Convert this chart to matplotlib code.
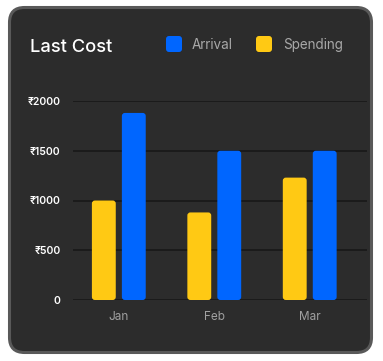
import matplotlib
matplotlib.use("Agg")
import matplotlib.pyplot as plt
from matplotlib.patches import FancyBboxPatch
import numpy as np

months = ["Jan", "Feb", "Mar"]
spending = [1000, 880, 1230]
arrival = [1880, 1500, 1500]
yticks = [0, 500, 1000, 1500, 2000]
ytick_labels = ["0", "₹500", "₹1000", "₹1500", "₹2000"]

W, H = 383, 361
FONT = ["Inter", "DejaVu Sans"]
plt.rcParams['font.family'] = FONT

fig = plt.figure(figsize=(W / 100, H / 100), dpi=100)
fig.patch.set_facecolor("white")

# overlay in pixel coordinates (origin top-left)
bg = fig.add_axes([0, 0, 1, 1])
bg.set_xlim(0, W)
bg.set_ylim(H, 0)
bg.axis("off")
card = FancyBboxPatch((9.5, 7.5), 362, 345, boxstyle="round,pad=0,rounding_size=15",
                      facecolor="#2c2c2c", edgecolor="#595959", linewidth=2.2)
bg.add_patch(card)
bg.text(29.5, 47, "Last Cost", color="white", fontsize=13.2, fontweight="medium",
        va="center", ha="left")

YELLOW = "#ffc914"
BLUE = "#0066ff"
leg = [("Arrival", BLUE, 166, 192), ("Spending", YELLOW, 256, 283)]
for lab, col, sx, tx in leg:
    bg.add_patch(FancyBboxPatch((sx, 36), 16, 16, boxstyle="round,pad=0,rounding_size=3",
                                facecolor=col, edgecolor="none"))
    bg.text(tx, 45, lab, color="#a8a8a8", fontsize=9.7, va="center", ha="left")

# plot axes
left, right, top, bottom = 73, 367, 101, 300
ax = fig.add_axes([left / W, (H - bottom) / H, (right - left) / W, (bottom - top) / H])
ax.set_facecolor("none")
ax.set_xlim(-0.48, 2.6)
ax.set_ylim(0, 2000)
for s in ax.spines.values():
    s.set_visible(False)
for yv in yticks:
    ax.axhline(yv, color="#1a1a1a", lw=1.3, zorder=1)

x = np.arange(len(months))
bw = 0.25
off = 0.157
bars_y = ax.bar(x - off, spending, bw, color=YELLOW, zorder=2)
bars_b = ax.bar(x + off, arrival, bw, color=BLUE, zorder=2)

px_x = (2.6 + 0.48) / (right - left)
px_y = 2000 / (bottom - top)
for bars in (bars_y, bars_b):
    for p in bars:
        p.set_visible(False)
        fb = FancyBboxPatch((p.get_x(), p.get_y()), p.get_width(), p.get_height(),
                            boxstyle=f"round,pad=0,rounding_size={3 * px_x}",
                            mutation_aspect=px_y / px_x,
                            facecolor=p.get_facecolor(), edgecolor="none", zorder=2)
        ax.add_patch(fb)

ax.set_yticks(yticks)
ax.set_yticklabels(ytick_labels, color="white", fontsize=7.5, fontweight="semibold")
ax.set_xticks(x)
ax.set_xticklabels(months, color="#a0a0a0", fontsize=8.5)
ax.tick_params(axis="y", length=0, pad=9)
ax.tick_params(axis="x", length=0, pad=8)

fig.savefig("out.png", dpi=100, facecolor="white")
